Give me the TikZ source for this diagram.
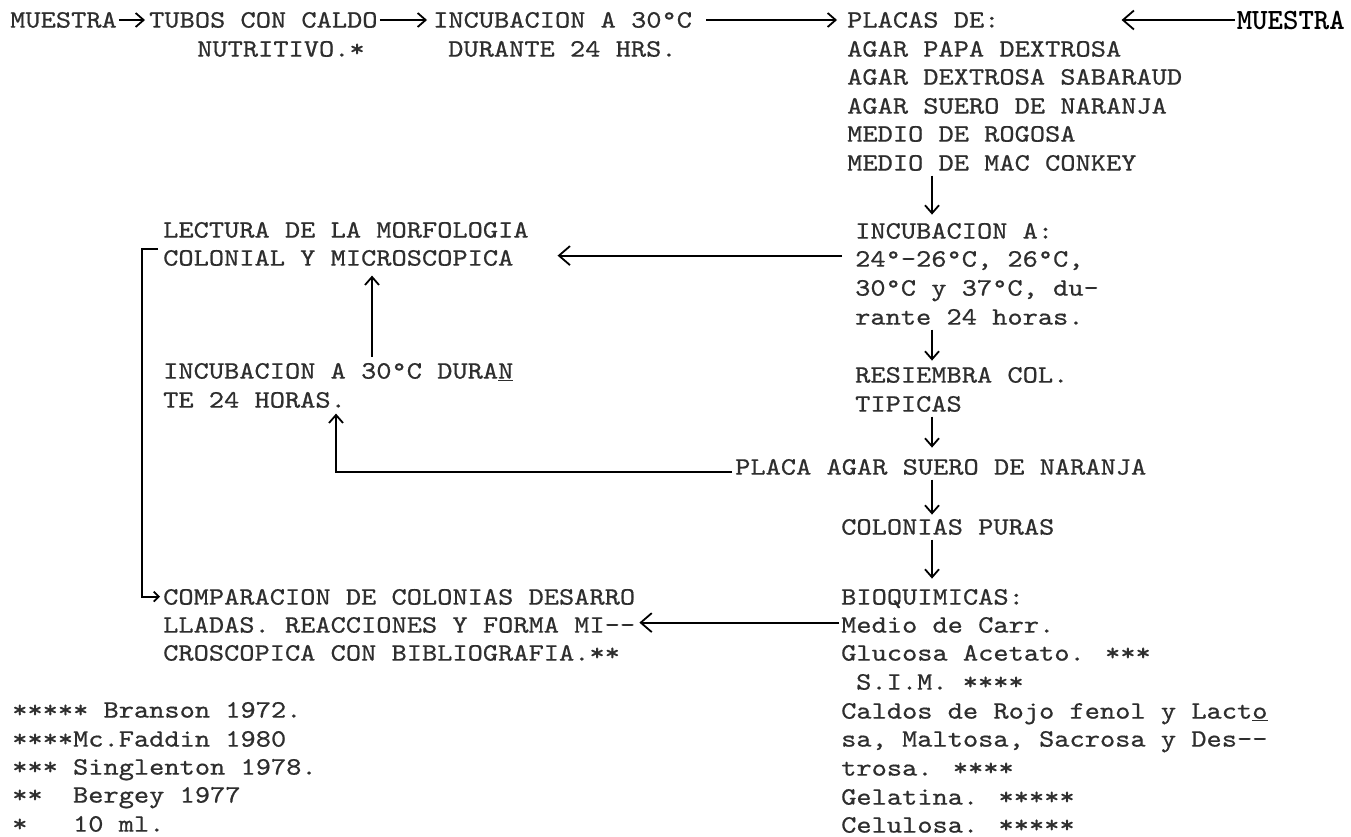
\documentclass[tikz,border=0pt]{standalone}
\usepackage{fontspec}
\usetikzlibrary{arrows.meta,calc}
\newfontfamily\tw{lmmono10-regular.otf}[FakeStretch=1.16,FakeBold=0.6]
\newcommand{\twsize}{\fontsize{25}{29}\selectfont}
\begin{document}
\begin{tikzpicture}[x=1pt,y=-1pt,
  txt/.style={font=\tw\twsize, inner sep=0pt, anchor=base west, text=black!82},
  arr/.style={line width=1.8pt, -{Straight Barb[length=8pt,width=14pt,line width=1.8pt]}},
  bigarr/.style={line width=1.8pt, -{Straight Barb[length=11pt,width=19pt,line width=1.8pt]}},
  hookarr/.style={line width=1.8pt, -{Straight Barb[length=5pt,width=10pt,line width=1.8pt]}},
  ]
\fill[white] (0,0) rectangle (1351,836);
\useasboundingbox (0,0) rectangle (1351,836);

% ---- top row
\node[txt] (m1) at (10,27.6) {MUESTRA};
\node[txt] (t1) at (149,27.6) {TUBOS CON CALDO};
\node[txt] (t2) at (197,56.6) {NUTRITIVO.*};
\node[txt] (i1) at (433,27.6) {INCUBACION A 30°C};
\node[txt] (i2) at (448,56.6) {DURANTE 24 HRS.};
\node[txt] (p1) at (847,27.6) {PLACAS DE:};
\node[txt] (p2) at (847,56.6) {AGAR PAPA DEXTROSA};
\node[txt] (p3) at (847,84.6) {AGAR DEXTROSA SABARAUD};
\node[txt] (p4) at (847,113.6) {AGAR SUERO DE NARANJA};
\node[txt] (p5) at (847,141.6) {MEDIO DE ROGOSA};
\node[txt] (p6) at (847,170.6) {MEDIO DE MAC CONKEY};
\node[inner sep=0pt, anchor=base east, text=black, font={\fontsize{29.4}{30}\ttfamily\bfseries}] (m2) at (1345,29) {MUESTRA};

% ---- right column
\node[txt] (ia1) at (855,238.6) {INCUBACION A:};
\node[txt] (ia2) at (855,266.6) {24°-26°C, 26°C,};
\node[txt] (ia3) at (855,295.6) {30°C y 37°C, du-};
\node[txt] (ia4) at (855,324.6) {rante 24 horas.};
\node[txt] (r1) at (855,382.6) {RESIEMBRA COL.};
\node[txt] (r2) at (855,411.6) {TIPICAS};
\node[txt] (pa) at (735,474.6) {PLACA AGAR SUERO DE NARANJA};
\node[txt] (co) at (841,534.6) {COLONIAS PURAS};
\node[txt] (b1) at (841,604.6) {BIOQUIMICAS:};
\node[txt] (b2) at (841,632.6) {Medio de Carr.};
\node[txt] (b3) at (841,660.6) {Glucosa Acetato. ***};
\node[txt] (b4) at (856,689.6) {S.I.M. ****};
\node[txt] (b5) at (841,718.6) {Caldos de Rojo fenol y Lact\underline{o}};
\node[txt] (b6) at (841,746.6) {sa, Maltosa, Sacrosa y Des--};
\node[txt] (b7) at (841,775.6) {trosa. ****};
\node[txt] (b8) at (841,804.6) {Gelatina. *****};
\node[txt] (b9) at (841,832.6) {Celulosa. *****};

% ---- left column
\node[txt] (l1) at (163,237.6) {LECTURA DE LA MORFOLOGIA};
\node[txt] (l2) at (163,265.6) {COLONIAL Y MICROSCOPICA};
\node[txt] (l3) at (163,378.6) {INCUBACION A 30°C DURA\underline{N}};
\node[txt] (l4) at (163,407.6) {TE 24 HORAS.};
\node[txt] (c1) at (163,604.6) {COMPARACION DE COLONIAS DESARRO};
\node[txt] (c2) at (163,632.6) {LLADAS. REACCIONES Y FORMA MI--};
\node[txt] (c3) at (163,660.6) {CROSCOPICA CON BIBLIOGRAFIA.**};

% ---- footnotes
\node[txt] (f1) at (12,717.6) {***** Branson 1972.};
\node[txt] (f2) at (12,746.6) {****Mc.Faddin 1980};
\node[txt] (f3) at (12,774.6) {*** Singlenton 1978.};
\node[txt] (f4) at (12,802.6) {**~~Bergey 1977};
\node[txt] (f5) at (12,831.6) {*~~~10 ml.};

% ---- helper coordinates
\coordinate (ax) at (932,0);
\coordinate (ux) at ($(l1.base west)+(209,0)$);
\coordinate (vx) at ($(l4.base west)+(173,0)$);

% ---- top row arrows
\draw[arr] ($(m1.base east)+(2,-7.6)$) -- ($(t1.base west)+(-4,-7.6)$);
\draw[arr] ($(t1.base east)+(2,-7.6)$) -- ($(i1.base west)+(-6,-7.6)$);
\draw[arr] ($(i1.base east)+(14,-7.6)$) -- ($(p1.base west)+(-10,-7.6)$);
\draw[bigarr] ($(m2.base west)+(-2,-9)$) -- ($(m2.base west)+(-115,-9)$);

% ---- vertical chain on the right
\draw[arr] ($(p6.base -| ax)+(0,5)$) -- ($(ia1.base -| ax)+(0,-24)$);
\draw[arr] ($(ia4.base -| ax)+(0,5)$) -- ($(r1.base -| ax)+(0,-22)$);
\draw[arr] ($(r2.base -| ax)+(0,5)$) -- ($(pa.base -| ax)+(0,-27)$);
\draw[arr] ($(pa.base -| ax)+(0,5)$) -- ($(co.base -| ax)+(0,-20)$);
\draw[arr] ($(co.base -| ax)+(0,5)$) -- ($(b1.base -| ax)+(0,-26)$);

% ---- to the left
\draw[bigarr] ($(ia2.base west)+(-13,-11)$) -- ($(l2.base east)+(44,-10)$);
\draw[arr] ($(l3.base -| ux)+(0,-22)$) -- ($(l2.base -| ux)+(0,10)$);
\draw[arr] ($(pa.base west)+(-3,-3)$) -| ($(l4.base -| vx)+(0,6)$);
\draw[bigarr] ($(b2.base west)+(-2,-10)$) -- ($(c2.base east)+(4,-10)$);
\draw[hookarr] ($(l2.base west)+(-5,-17)$) -- ($(l2.base west)+(-21,-17)$) |- ($(c1.base west)+(-3,-8)$);
\end{tikzpicture}
\end{document}
